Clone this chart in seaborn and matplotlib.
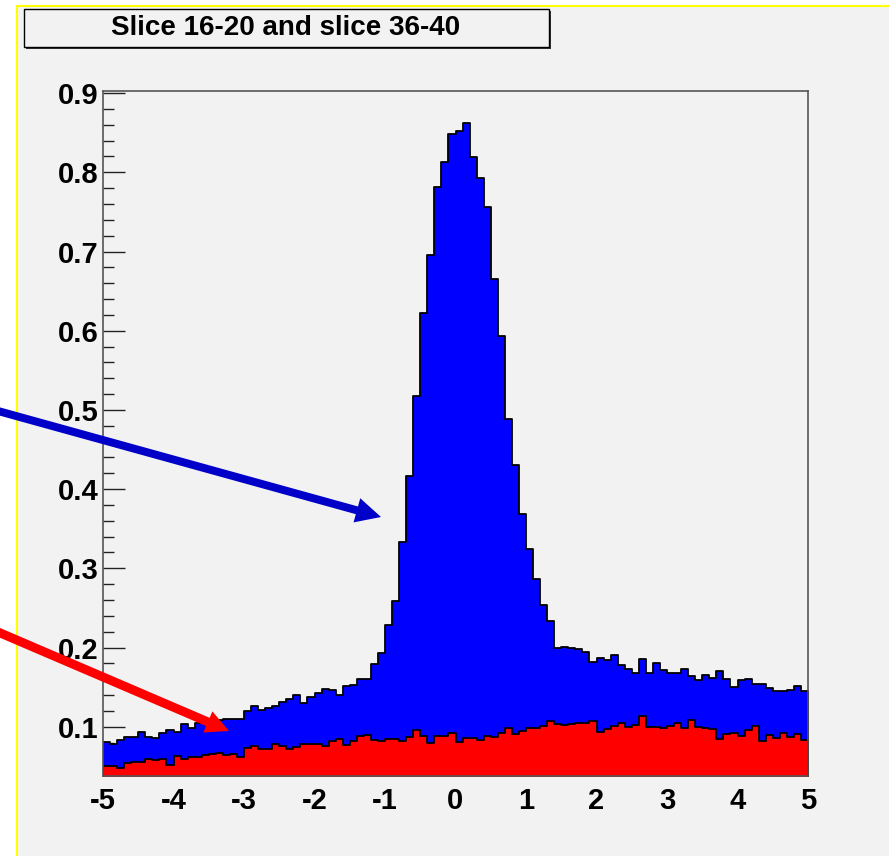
import numpy as np
import pandas as pd
import matplotlib
matplotlib.use("Agg")
import matplotlib.pyplot as plt
from matplotlib.patches import Rectangle, FancyArrow
import seaborn as sns

# ---------------- data ----------------
bin_edges = [round(-5 + 0.1 * i, 3) for i in range(101)]
bin_centers = [round(-4.95 + 0.1 * i, 3) for i in range(100)]

slice_16_20 = [
    0.081, 0.078, 0.083, 0.0866, 0.0866, 0.093, 0.087, 0.086, 0.092, 0.096,
    0.093, 0.104, 0.098, 0.105, 0.107, 0.108, 0.109, 0.110, 0.110, 0.110,
    0.120, 0.1265, 0.121, 0.124, 0.1265, 0.1316, 0.135, 0.140, 0.130, 0.1375,
    0.142, 0.1476, 0.146, 0.140, 0.1518, 0.1526, 0.160, 0.160, 0.1788, 0.1926,
    0.2284, 0.259, 0.333, 0.417, 0.5175, 0.623, 0.695, 0.782, 0.8126, 0.8487,
    0.8525, 0.8618, 0.8193, 0.7924, 0.7558, 0.665, 0.593, 0.489, 0.43, 0.3686,
    0.325, 0.2865, 0.2537, 0.233, 0.199, 0.201, 0.1998, 0.1977, 0.194, 0.182,
    0.187, 0.184, 0.190, 0.178, 0.173, 0.1674, 0.186, 0.168, 0.181, 0.1716,
    0.168, 0.168, 0.1725, 0.1644, 0.159, 0.165, 0.161, 0.170, 0.160, 0.1505,
    0.1586, 0.160, 0.1535, 0.1545, 0.1485, 0.1455, 0.1455, 0.1463, 0.152, 0.1455,
]

slice_36_40 = [
    0.0504, 0.0504, 0.0474, 0.0546, 0.055, 0.0558, 0.0588, 0.058, 0.0588, 0.0516,
    0.063, 0.059, 0.0614, 0.062, 0.064, 0.065, 0.0672, 0.064, 0.066, 0.0614,
    0.0727, 0.0756, 0.0722, 0.0714, 0.0778, 0.0753, 0.0718, 0.074, 0.0778, 0.0778,
    0.0778, 0.0753, 0.0815, 0.0849, 0.0765, 0.0823, 0.0883, 0.0899, 0.0828, 0.0815,
    0.0849, 0.0849, 0.0823, 0.087, 0.0954, 0.0883, 0.079, 0.0883, 0.0883, 0.0916,
    0.081, 0.0862, 0.0862, 0.0828, 0.0883, 0.087, 0.0916, 0.0988, 0.0908, 0.0942,
    0.0988, 0.0988, 0.1009, 0.1072, 0.103, 0.1017, 0.1038, 0.105, 0.105, 0.1076,
    0.0929, 0.0967, 0.1013, 0.1047, 0.1, 0.1017, 0.1139, 0.0992, 0.1, 0.0983,
    0.1009, 0.1047, 0.098, 0.1085, 0.1, 0.0988, 0.0967, 0.0849, 0.0904, 0.0916,
    0.0887, 0.0958, 0.1009, 0.0823, 0.0891, 0.0853, 0.0924, 0.0874, 0.0912, 0.0836,
]

x_ticks = [-5, -4, -3, -2, -1, 0, 1, 2, 3, 4, 5]
y_ticks = [0.1, 0.2, 0.3, 0.4, 0.5, 0.6, 0.7, 0.8, 0.9]
title_text = "Slice 16-20 and slice 36-40"

df_a = pd.DataFrame({"x": bin_centers, "w": slice_16_20})
df_b = pd.DataFrame({"x": bin_centers, "w": slice_36_40})

# ---------------- style ----------------
sns.set_theme(style="white")
plt.rcParams["font.family"] = ["Liberation Sans", "DejaVu Sans"]
plt.rcParams["font.weight"] = "bold"
plt.rcParams["axes.unicode_minus"] = False

W, H = 889, 856
fig = plt.figure(figsize=(W / 100, H / 100), dpi=100, facecolor="white")

# canvas pad (grey with yellow border on top/left)
pad = Rectangle((16.5 / W, -0.2), 1.5, 1.2 - 5.5 / H, transform=fig.transFigure,
                facecolor="#f2f2f2", edgecolor="#ffff00", linewidth=1.5, zorder=-10)
fig.patches.append(pad)

ax = fig.add_axes([103 / W, 1 - 776 / H, 705 / W, 685 / H])
ax.set_facecolor("#f2f2f2")

sns.histplot(data=df_a, x="x", weights="w", bins=bin_edges,
             element="step", fill=True, color="#0000ff", alpha=1,
             edgecolor="black", linewidth=1.3, ax=ax)
sns.histplot(data=df_b, x="x", weights="w", bins=bin_edges,
             element="step", fill=True, color="#ff0000", alpha=1,
             edgecolor="black", linewidth=1.3, ax=ax)

ax.set_xlim(-5, 5)
ax.set_ylim(0.0378, 0.9027)
ax.set_xlabel("")
ax.set_ylabel("")

ax.set_xticks(x_ticks)
ax.set_xticklabels([str(t) for t in x_ticks], fontsize=21, fontweight="bold")
ax.set_yticks(y_ticks)
ax.set_yticklabels([f"{t:.1f}" for t in y_ticks], fontsize=21, fontweight="bold")
ax.set_yticks(np.round(np.arange(0.04, 0.91, 0.02), 2), minor=True)

ax.tick_params(axis="x", which="both", length=0, pad=8, colors="black")
ax.tick_params(axis="y", which="major", direction="in", length=16, width=1.0,
               color="#222222", pad=3, labelcolor="black", left=True)
ax.tick_params(axis="y", which="minor", direction="in", length=8, width=1.0,
               color="#222222", left=True)

for s in ax.spines.values():
    s.set_color("#555555")
    s.set_linewidth(1.2)
    s.set_visible(True)

# title box
def px_box(x0, y0, x1, y1):
    return (x0 / W, 1 - y1 / H, (x1 - x0) / W, (y1 - y0) / H)

bx = px_box(26, 11, 551, 49)
fig.patches.append(Rectangle(bx[:2], bx[2], bx[3], transform=fig.transFigure,
                             facecolor="#333333", edgecolor="none", zorder=5))
bx = px_box(24, 9, 549, 47)
fig.patches.append(Rectangle(bx[:2], bx[2], bx[3], transform=fig.transFigure,
                             facecolor="#f2f2f2", edgecolor="black", linewidth=1.0, zorder=6))
fig.text(286 / W, 1 - 28 / H, title_text, ha="center", va="center",
         fontsize=20, fontweight="bold", color="black", zorder=7)

# arrows (pixel -> inches)
def arrow(x0, y0, x1, y1, color, width, hw, hl):
    a = FancyArrow(x0 / 100, (H - y0) / 100, (x1 - x0) / 100, -(y1 - y0) / 100,
                   width=width / 100, head_width=hw / 100, head_length=hl / 100,
                   length_includes_head=True, transform=fig.dpi_scale_trans,
                   color=color, linewidth=0, zorder=20)
    fig.patches.append(a)

arrow(-2, 411, 381, 517, "#0000c8", 8, 25, 25)
arrow(-2, 632, 229, 731, "#ff0000", 9, 23, 23)

fig.savefig("out.png", dpi=100, facecolor="white")
